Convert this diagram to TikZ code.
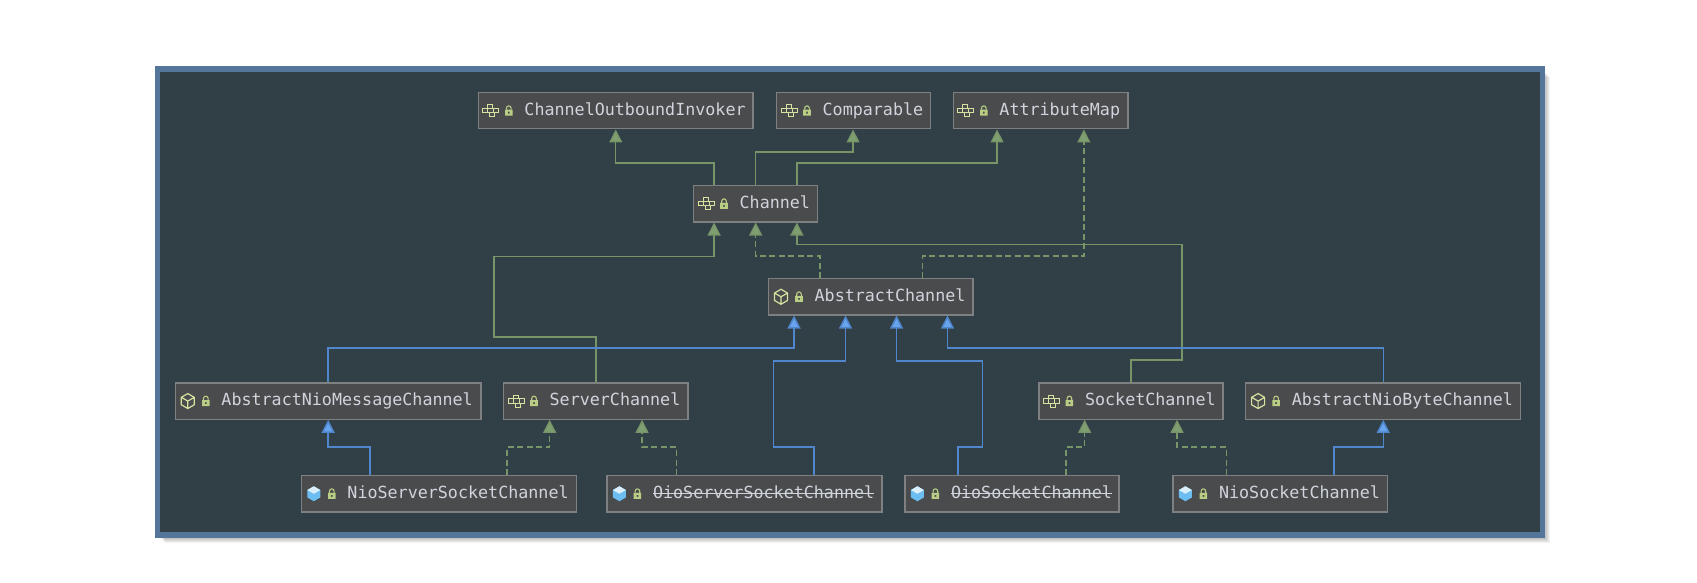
\documentclass[tikz,border=0pt]{standalone}
\usepackage{fontspec}
\newfontfamily\cfont{DejaVu Sans Mono}
\usetikzlibrary{arrows.meta,calc}
\definecolor{panel}{HTML}{313F47}
\definecolor{framec}{HTML}{55769B}
\definecolor{boxfill}{HTML}{4A4B4D}
\definecolor{boxline}{HTML}{7E8082}
\definecolor{txt}{HTML}{D0D4DC}
\definecolor{gline}{HTML}{789469}
\definecolor{gtip}{HTML}{7F9F70}
\definecolor{bline}{HTML}{4F86CC}
\definecolor{btip}{HTML}{69A4EE}
\definecolor{iconc}{HTML}{D6E2A0}
\definecolor{lockc}{HTML}{B9CE84}
\definecolor{clsc}{HTML}{6CBDF2}
\newcommand\strk[1]{\sbox0{#1}\rlap{\rule[0.27em]{\wd0}{0.07em}}#1}
\tikzset{
  x=1pt,y=-1pt,
  clsbox/.style={draw=boxline,line width=1.3pt,fill=boxfill,inner sep=0pt,anchor=north west,
    minimum height=36.2pt,text=txt,font=\cfont\fontsize{16.7}{20}\selectfont},
  ext/.style={draw=gline,line width=1.3pt,-{Triangle[width=13pt,length=13pt,fill=gtip]}},
  impl/.style={ext,dash pattern=on 6pt off 3.5pt},
  blu/.style={draw=bline,line width=1.5pt,-{Triangle[width=13pt,length=13pt,fill=btip]}},
  lockicon/.pic={
    \fill[lockc,even odd rule] (-3.8,-1) rectangle (3.8,5) (-0.9,1) rectangle (0.9,3);
    \draw[lockc,line width=1.1pt] (-2.3,-1) -- (-2.3,-2.6) arc[start angle=180,end angle=360,radius=2.3] -- (2.3,-1);
  },
  iface/.pic={
    \draw[iconc,line width=0.9pt]
      (-8,-2.3) rectangle (8,2) (-3,-2.3) -- (-3,2) (3,-2.3) -- (3,2)
      (-3,-2.3) -- (-3,-6) -- (2,-6) -- (2,-2.3)
      (-1,2) -- (-1,6) -- (4,6) -- (4,2);
  },
  abscls/.pic={
    \draw[iconc,line width=1.2pt,line join=round]
      (0,-7.5) -- (6.5,-3.7) -- (6.5,3.7) -- (0,7.5) -- (-6.5,3.7) -- (-6.5,-3.7) -- cycle
      (-6.5,-3.7) -- (0,0) -- (6.5,-3.7) (0,0) -- (0,7.5);
  },
  conccls/.pic={
    \fill[clsc] (0,-7.5) -- (6.5,-3.7) -- (6.5,3.7) -- (0,7.5) -- (-6.5,3.7) -- (-6.5,-3.7) -- cycle;
    \fill[white!75!clsc] (0,-7.5) -- (6.5,-3.7) -- (0,0) -- (-6.5,-3.7) -- cycle;
  }
}
% name, x1, x2, y1, icon, text
\newcommand\cls[6]{%
  \pgfmathsetmacro\bw{#3-#2}%
  \pgfmathsetmacro\bx{#2-0.6}%
  \node[clsbox,minimum width=\bw pt] (#1) at (\bx,#4)
    {\makebox[\bw pt][l]{\hspace*{46pt}\vphantom{Ag}#6}};
  \pic at ($(#1.west)+(13,0)$) {#5};
  \pic at ($(#1.west)+(31,0)$) {lockicon};
}
\begin{document}
\begin{tikzpicture}
\useasboundingbox (0,0) rectangle (1697,583);
\fill[white] (0,0) rectangle (1697,583);
% shadow
\foreach \e in {0,1,2,3,4,5}
  \fill[black,opacity=0.05] (160+\e,72+\e) rectangle (1545+\e,538+\e);
% frame
\fill[framec] (154.5,66) rectangle (1545,538);
\fill[panel] (160.3,72) rectangle (1539.5,532);
% classes
\cls{coi}{478.4}{753}{92}{iface}{ChannelOutboundInvoker}
\cls{comp}{776.6}{930.4}{92}{iface}{Comparable}
\cls{attr}{953.4}{1128}{92}{iface}{AttributeMap}
\cls{chan}{693.6}{817.7}{185}{iface}{Channel}
\cls{abs}{768.6}{973}{278}{abscls}{AbstractChannel}
\cls{anmc}{175.4}{480.8}{382.3}{abscls}{AbstractNioMessageChannel}
\cls{srv}{503.6}{688}{382.3}{iface}{ServerChannel}
\cls{sock}{1039}{1223}{382.3}{iface}{SocketChannel}
\cls{anbc}{1245.7}{1520.7}{382.3}{abscls}{AbstractNioByteChannel}
\cls{nssc}{301.4}{576.7}{475}{conccls}{NioServerSocketChannel}
\cls{ossc}{607}{882}{475}{conccls}{\strk{OioServerSocketChannel}}
\cls{osc}{905}{1119}{475}{conccls}{\strk{OioSocketChannel}}
\cls{nsc}{1173}{1387.7}{475}{conccls}{NioSocketChannel}
% channel extends
\draw[ext] ([xshift=-41.6pt]chan.north) -- ++(0,-22) -| (coi.south);
\draw[ext] (chan.north) -- ++(0,-33) -| ([xshift=-0.5pt]comp.south);
\draw[ext] ([xshift=41.2pt]chan.north) -- ++(0,-22) -| ([xshift=-43.7pt]attr.south);
% server / socket to channel
\draw[ext] (srv.north) -- ++(0,-45.3) -- ++(-101.8,0) |- ($(chan.south)+(-41.6,34.3)$) -- ([xshift=-41.6pt]chan.south);
\draw[ext] (sock.north) -- ++(0,-22.3) -- ++(51,0) |- ($(chan.south)+(41.2,22.3)$) -- ([xshift=41.2pt]chan.south);
% abstract channel implements
\draw[impl] ([xshift=-51pt]abs.north) -- ++(0,-22) -| (chan.south);
\draw[impl] ([xshift=51.8pt]abs.north) -- ++(0,-22) -| ([xshift=43.1pt]attr.south);
% extends abstract channel
\draw[blu] (anmc.north) -- ++(0,-34.3) -| ([xshift=-76.8pt]abs.south);
\draw[blu] ([xshift=-68.5pt]ossc.north east) -- ++(0,-28) -- ++(-40.5,0) |- ($(abs.south)+(-25.3,45.3)$) -- ([xshift=-25.3pt]abs.south);
\draw[blu] ([xshift=53.7pt]osc.north west) -- ++(0,-28) -- ++(24.3,0) |- ($(abs.south)+(25.7,45.3)$) -- ([xshift=25.7pt]abs.south);
\draw[blu] (anbc.north) -- ++(0,-34.3) -| ([xshift=76.6pt]abs.south);
% leaf classes
\draw[blu] ([xshift=-69pt]nssc.north) -- ++(0,-28) -| (anmc.south);
\draw[impl] ([xshift=68pt]nssc.north) -- ++(0,-28) -| ([xshift=-46.2pt]srv.south);
\draw[impl] ([xshift=-67.9pt]ossc.north) -- ++(0,-28) -| ([xshift=46.2pt]srv.south);
\draw[impl] ([xshift=54pt]osc.north) -- ++(0,-28) -| ([xshift=-46.4pt]sock.south);
\draw[impl] ([xshift=-54pt]nsc.north) -- ++(0,-28) -| ([xshift=46pt]sock.south);
\draw[blu] ([xshift=53.4pt]nsc.north) -- ++(0,-28) -| (anbc.south);
\end{tikzpicture}
\end{document}
